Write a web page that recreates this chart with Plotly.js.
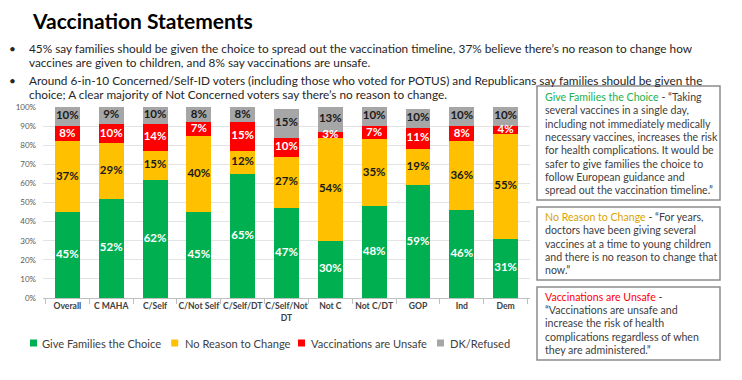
<!DOCTYPE html>
<html><head><meta charset="utf-8">
<script src="https://cdn.plot.ly/plotly-3.0.1.min.js"></script>
<style>html,body{margin:0;padding:0;background:#fff;}#chart{width:742px;height:380px;}</style>
</head><body><div id="chart"></div>
<script>
// ---- data ----
const categories = ['Overall','C MAHA','C/Self','C/Not Self','C/Self/DT','C/Self/Not<br>DT','Not C','Not C/DT','GOP','Ind','Dem'];
const giveChoice = [45,52,62,45,65,47,30,48,59,46,31];
const noReason   = [37,29,15,40,12,27,54,35,19,36,55];
const unsafe     = [8,10,14,7,15,10,3,7,11,8,4];
const dkRefused  = [10,9,10,8,8,15,13,10,10,10,10];
const seriesNames = ['Give Families the Choice','No Reason to Change','Vaccinations are Unsafe','DK/Refused'];
const yTickVals = [0,10,20,30,40,50,60,70,80,90,100];
const yTickText = ['0%','10%','20%','30%','40%','50%','60%','70%','80%','90%','100%'];
const titleText = 'Vaccination Statements';
const bulletLines = [
  ['45% say families should be given the choice to spread out the vaccination timeline, 37% believe there’s no reason to change how', true],
  ['vaccines are given to children, and 8% say vaccinations are unsafe.', false],
  ['Around 6-in-10 Concerned/Self-ID voters (including those who voted for POTUS) and Republicans say families should be given the', true],
  ['choice; A clear majority of Not Concerned voters say there’s no reason to change.', false]
];
const boxHeaders = ['Give Families the Choice', 'No Reason to Change', 'Vaccinations are Unsafe'];
const boxLines = [
  [' - “Taking', 'several vaccines in a single day,', 'including not immediately medically', 'necessary vaccines, increases the risk', 'for health complications. It would be', 'safer to give families the choice to', 'follow European guidance and', 'spread out the vaccination timeline.”'],
  [' - “For years,', 'doctors have been giving several', 'vaccines at a time to young children', 'and there is no reason to change that', 'now.”'],
  [' -', '“Vaccinations are unsafe and', 'increase the risk of health', 'complications regardless of when', 'they are administered.”']
];

// ---- style ----
const colors = ['#00B050','#FFC000','#FF0000','#A6A6A6'];
const labelColors = ['#FFFFFF','#1a1a1a','#FFFFFF','#1a1a1a'];
const headerColors = ['#22B24C','#D9A400','#FF0000'];
const FONT = 'Lato, "Noto Sans", sans-serif';
const W = 742, H = 380;
const PL = 43, PR = 530, PT = 107, PB = 298;
const px = x => (x - PL) / (PR - PL);
const py = y => (PB - y) / (PB - PT);

const series = [giveChoice, noReason, unsafe, dkRefused];
const traces = [];
series.forEach((vals, i) => {
  traces.push({
    type: 'bar', x: categories, y: vals, name: seriesNames[i],
    marker: {color: colors[i], line: {width: 0}},
    textposition: 'none', hoverinfo: 'x+y+name', showlegend: false
  });
});
// labels at segment centers
const base = categories.map(() => 0);
series.forEach((vals, i) => {
  const mids = vals.map((v, j) => base[j] + v / 2);
  vals.forEach((v, j) => base[j] += v);
  traces.push({
    type: 'scatter', mode: 'text', x: categories, y: mids,
    text: vals.map(v => v + '%'), cliponaxis: false, showlegend: false, hoverinfo: 'skip',
    textfont: {family: FONT, size: 11.5, color: labelColors[i], weight: 'bold'}
  });
});

const annotations = [];
const shapes = [];
// bullets
const bulletY = [48, 63, 80, 95];
bulletLines.forEach((b, i) => {
  annotations.push({xref:'paper', yref:'paper', x: px(27), y: py(bulletY[i]), xanchor:'left', yanchor:'middle',
    text: b[0], showarrow:false, font:{family: FONT, size: 11.8, color:'#262626'}});
  if (b[1]) annotations.push({xref:'paper', yref:'paper', x: px(12), y: py(bulletY[i]), xanchor:'center', yanchor:'middle',
    text: '•', showarrow:false, font:{family: FONT, size: 11.8, color:'#262626'}});
});
// quote boxes
const boxes = [[86, 200, 97], [207, 280, 217], [287, 360, 296.7]];
const LINE = 13.3;
boxes.forEach((b, i) => {
  shapes.push({type:'rect', xref:'paper', yref:'paper', x0: px(537), x1: px(720), y0: py(b[1]), y1: py(b[0]),
    line:{color:'#8C8C8C', width:1.5}, fillcolor:'rgba(0,0,0,0)'});
  boxLines[i].forEach((ln, k) => {
    const t = k === 0 ? '<span style="color:' + headerColors[i] + '">' + boxHeaders[i] + '</span>' + ln : ln;
    annotations.push({xref:'paper', yref:'paper', x: px(543), y: py(b[2] + k * LINE), xanchor:'left', yanchor:'middle', align:'left',
      text: t, showarrow:false, font:{family: FONT, size: 10.6, color:'#404040'}});
  });
});
// legend
const legSq = [33.5, 174.7, 301.5, 440.5];
const legTx = [39.5, 182.5, 308.5, 448];
const legY = 343;
seriesNames.forEach((n, i) => {
  shapes.push({type:'rect', xref:'paper', yref:'paper', x0: px(legSq[i]-3.5), x1: px(legSq[i]+3.5), y0: py(legY+3.5), y1: py(legY-3.5),
    line:{width:0}, fillcolor: colors[i]});
  annotations.push({xref:'paper', yref:'paper', x: px(legTx[i]), y: py(legY), xanchor:'left', yanchor:'middle',
    text: n, showarrow:false, font:{family: FONT, size: 11.1, color:'#404040'}});
});

const layout = {
  width: W, height: H,
  margin: {l: PL, r: W - PR, t: PT, b: H - PB, pad: 0},
  paper_bgcolor: '#fff', plot_bgcolor: '#fff',
  barmode: 'stack', bargap: 0.43,
  showlegend: false,
  title: {text: '<b>' + titleText + '</b>', x: 33 / W, xanchor: 'left', xref: 'container', yref: 'container',
    y: 1 - 22 / H, yanchor: 'middle', font: {family: FONT, size: 21, color: '#000'}},
  xaxis: {type: 'category', showgrid: false, showline: true, linecolor: '#BFBFBF', linewidth: 1,
    ticks: 'outside', tickson: 'boundaries', ticklen: 5, tickcolor: '#BFBFBF', tickangle: 0,
    tickfont: {family: FONT, size: 8.6, color: '#404040', weight: 'bold'}, fixedrange: true},
  yaxis: {range: [0, 100], tickvals: yTickVals, ticktext: yTickText, showgrid: true, gridcolor: '#E3E3E3',
    zeroline: false, showline: false, ticks: '', ticklabelstandoff: 6,
    tickfont: {family: FONT, size: 8, color: '#595959'}, fixedrange: true},
  annotations: annotations, shapes: shapes
};
Plotly.newPlot('chart', traces, layout, {displayModeBar: false, staticPlot: true});
</script></body></html>
